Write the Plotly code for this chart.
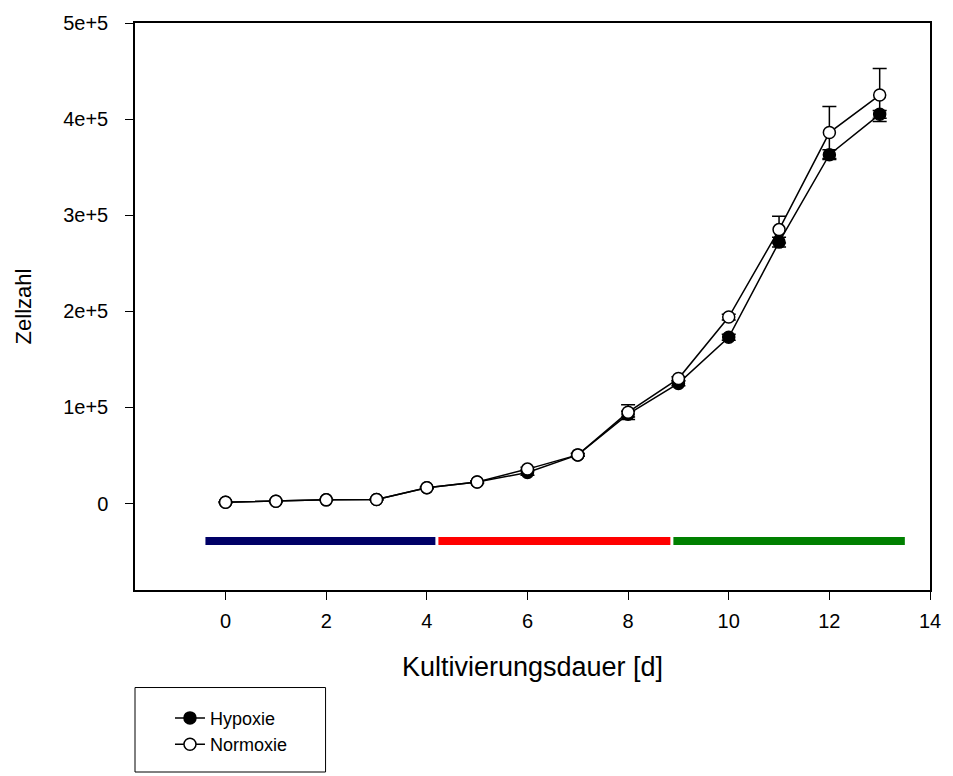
import plotly.graph_objects as go

days = [0, 1, 2, 3, 4, 5, 6, 7, 8, 9, 10, 11, 12, 13]
hypoxie = [1300, 2400, 3800, 4100, 16500, 22400, 32300, 50600, 93000, 125000, 173000, 272000, 363000, 405000]
hypoxie_err = [500, 500, 500, 500, 800, 1000, 3000, 1500, 3000, 2500, 3000, 5000, 5000, 4000]
normoxie = [1300, 2400, 3800, 4100, 16500, 22400, 35800, 50600, 95000, 130000, 194000, 285000, 386000, 425000]
normoxie_err = [500, 500, 500, 500, 800, 1000, 2000, 1500, 7700, 2000, 3000, 14000, 27000, 27600]

phase_start = [-0.4, 4.23, 8.9]
phase_end = [4.17, 8.84, 13.5]
phase_level = [-39000, -39000, -39000]
phase_colors = ["#000066", "#ff0000", "#008000"]

y_ticks = [0, 100000, 200000, 300000, 400000, 500000]
y_labels = ["0", "1e+5", "2e+5", "3e+5", "4e+5", "5e+5"]
x_ticks = [0, 2, 4, 6, 8, 10, 12, 14]

FONT = "Liberation Sans, Arial, sans-serif"

fig = go.Figure()

for s, e, lv, c in zip(phase_start, phase_end, phase_level, phase_colors):
    fig.add_trace(go.Scatter(x=[s, e], y=[lv, lv], mode="lines",
                             line=dict(color=c, width=8), showlegend=False,
                             hoverinfo="skip"))

fig.add_trace(go.Scatter(
    x=days, y=hypoxie, name="Hypoxie", mode="lines+markers",
    line=dict(color="black", width=1.5),
    marker=dict(symbol="circle", size=12, color="black",
                line=dict(color="black", width=1.5)),
    error_y=dict(type="data", array=hypoxie_err, color="black",
                 thickness=1.5, width=7),
))
fig.add_trace(go.Scatter(
    x=days, y=normoxie, name="Normoxie", mode="lines+markers",
    line=dict(color="black", width=1.5),
    marker=dict(symbol="circle", size=12, color="white",
                line=dict(color="black", width=1.5)),
    error_y=dict(type="data", array=normoxie_err, color="black",
                 thickness=1.5, width=7),
))

# legend frame
fig.add_shape(type="rect", xref="paper", yref="paper",
              x0=0, x1=0.2397, y0=-0.321, y1=-0.172,
              line=dict(color="black", width=1), fillcolor="white",
              layer="below")

fig.update_layout(
    width=953, height=776,
    margin=dict(l=135, r=17, t=20, b=186),
    paper_bgcolor="white", plot_bgcolor="white",
    font=dict(family=FONT, size=20, color="black"),
    showlegend=True,
    legend=dict(x=0.044, y=-0.249, xanchor="left", yanchor="middle",
                borderwidth=0, bgcolor="rgba(0,0,0,0)",
                font=dict(size=18, family=FONT), tracegroupgap=0),
)
fig.update_xaxes(
    range=[-1.8, 14], tickvals=x_ticks, ticks="outside", ticklen=8,
    tickwidth=1, tickcolor="black", showline=True, linecolor="black",
    linewidth=1.5, mirror=True, showgrid=False, zeroline=False,
    tickfont=dict(size=20, family=FONT), ticklabelstandoff=4,
    title=dict(text="Kultivierungsdauer [d]", font=dict(size=27, family=FONT), standoff=26),
)
fig.update_yaxes(
    range=[-90000, 500000], tickvals=y_ticks, ticktext=y_labels,
    ticks="outside", ticklen=8, tickwidth=1, tickcolor="black",
    showline=True, linecolor="black", linewidth=1.5, mirror=True,
    showgrid=False, zeroline=False, tickfont=dict(size=20, family=FONT),
    ticklabelstandoff=13,
    title=dict(text="Zellzahl", font=dict(size=22, family=FONT), standoff=25),
)

fig.write_html("out.html")
